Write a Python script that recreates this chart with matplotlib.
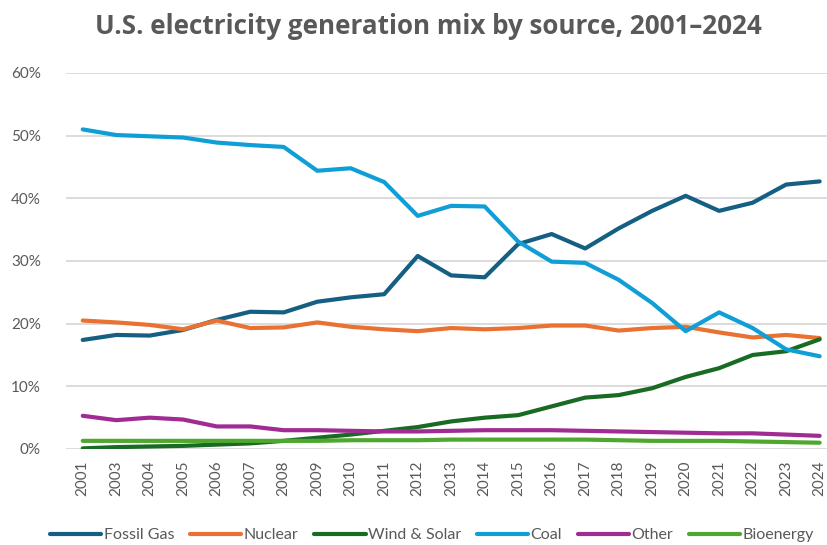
import matplotlib
matplotlib.use("Agg")
import matplotlib.pyplot as plt
from matplotlib.ticker import PercentFormatter

# Years shown on the category axis (2002 is not in the source table)
years = ["2001", "2003", "2004", "2005", "2006", "2007", "2008", "2009", "2010",
         "2011", "2012", "2013", "2014", "2015", "2016", "2017", "2018", "2019",
         "2020", "2021", "2022", "2023", "2024"]

# Share of total generation, %
fossil_gas = [17.4, 18.2, 18.1, 19.0, 20.6, 21.9, 21.8, 23.5, 24.2, 24.7, 30.8,
              27.7, 27.4, 32.7, 34.3, 32.0, 35.2, 38.0, 40.4, 38.0, 39.3, 42.2, 42.7]
nuclear = [20.5, 20.2, 19.8, 19.1, 20.5, 19.3, 19.4, 20.2, 19.5, 19.1, 18.8,
           19.3, 19.1, 19.3, 19.7, 19.7, 18.9, 19.3, 19.5, 18.6, 17.8, 18.2, 17.7]
wind_solar = [0.1, 0.3, 0.4, 0.5, 0.7, 0.9, 1.3, 1.8, 2.3, 2.9, 3.5,
              4.4, 5.0, 5.4, 6.8, 8.2, 8.6, 9.7, 11.5, 12.9, 15.0, 15.6, 17.5]
coal = [51.0, 50.1, 49.9, 49.7, 48.9, 48.5, 48.2, 44.4, 44.8, 42.6, 37.2,
        38.8, 38.7, 33.1, 29.9, 29.7, 27.0, 23.3, 18.8, 21.8, 19.3, 15.9, 14.8]
other = [5.3, 4.6, 5.0, 4.7, 3.6, 3.6, 3.0, 3.0, 2.9, 2.8, 2.8,
         2.9, 3.0, 3.0, 3.0, 2.9, 2.8, 2.7, 2.6, 2.5, 2.5, 2.3, 2.1]
bioenergy = [1.3, 1.3, 1.3, 1.3, 1.3, 1.3, 1.3, 1.3, 1.4, 1.4, 1.4,
             1.5, 1.5, 1.5, 1.5, 1.5, 1.4, 1.3, 1.3, 1.3, 1.2, 1.1, 1.0]

series = [
    ("Fossil Gas", fossil_gas, "#156082"),
    ("Nuclear", nuclear, "#E97132"),
    ("Wind & Solar", wind_solar, "#196B24"),
    ("Coal", coal, "#0F9ED5"),
    ("Other", other, "#A02B93"),
    ("Bioenergy", bioenergy, "#4EA72E"),
]

plt.rcParams["font.family"] = ["Lato", "DejaVu Sans"]
text_color = "#595959"

fig = plt.figure(figsize=(8.28, 5.45), dpi=100)
ax = fig.add_axes([66 / 828, 96 / 545, 762 / 828, 376 / 545])

x = list(range(len(years)))
for name, vals, color in series:
    ax.plot(x, vals, color=color, lw=3.0, label=name,
            solid_capstyle="round", solid_joinstyle="round")

ax.set_xlim(-0.5, 22.25)
ax.set_ylim(0, 60)
ax.set_yticks(range(0, 61, 10))
ax.yaxis.set_major_formatter(PercentFormatter(decimals=0))
ax.set_xticks(x)
ax.set_xticklabels(years, rotation=90)

ax.grid(axis="y", color="#D9D9D9", lw=1.3)
ax.set_axisbelow(True)
for s in ax.spines.values():
    s.set_visible(False)
ax.tick_params(length=0, labelsize=11, colors=text_color)
ax.tick_params(axis="y", pad=18)
ax.tick_params(axis="x", pad=8)

fig.text(0.5175, 0.952, "U.S. electricity generation mix by source, 2001\u20132024",
         ha="center", va="center", fontsize=18.7, fontweight="bold",
         color=text_color, family=["Open Sans", "DejaVu Sans"])

fig.legend(loc="center", bbox_to_anchor=(0.522, 0.018), ncol=6, frameon=False,
           fontsize=11.5, handlelength=3.2, handletextpad=0.15, columnspacing=1.0,
           labelcolor=text_color)

plt.savefig("out.png", dpi=100)
